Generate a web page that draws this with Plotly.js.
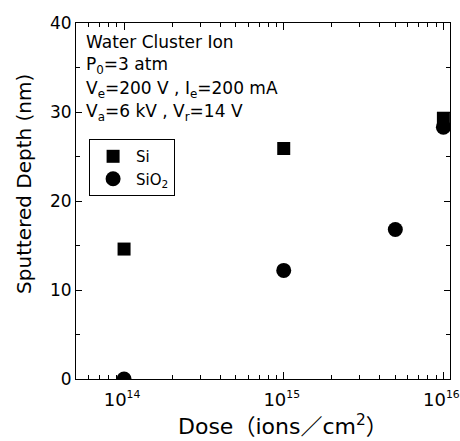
<!DOCTYPE html>
<html>
<head>
<meta charset="utf-8">
<script src="https://cdn.plot.ly/plotly-3.0.1.min.js"></script>
<style>
  html, body { margin: 0; padding: 0; background: #fff; }
  #chart { width: 460px; height: 441px; }
</style>
</head>
<body>
<div id="chart"></div>
<script>
// Sputtered depth vs. ion dose for water cluster ion irradiation
const siDose = [1e14, 1e15, 1e16];
const siDepth = [14.6, 25.9, 29.3];
const sio2Dose = [1e14, 1e15, 5e15, 1e16];
const sio2Depth = [0, 12.2, 16.8, 28.3];

const xTickVals = [1e14, 1e15, 1e16];
const xTickText = ['10<sup><span style="font-size:86%">14</span></sup>',
                   '10<sup><span style="font-size:86%">15</span></sup>',
                   '10<sup><span style="font-size:86%">16</span></sup>'];
const xMinorVals = [6e13, 7e13, 8e13, 9e13,
  2e14, 3e14, 4e14, 5e14, 6e14, 7e14, 8e14, 9e14,
  2e15, 3e15, 4e15, 5e15, 6e15, 7e15, 8e15, 9e15];

const conditionLines = [
  'Water Cluster Ion',
  'P<sub>0</sub>=3 atm',
  'V<sub>e</sub>=200 V , I<sub>e</sub>=200 mA',
  'V<sub>a</sub>=6 kV , V<sub>r</sub>=14 V'
];

const FONT = 'DejaVu Sans, "Noto Sans CJK JP", sans-serif';

const traces = [
  {
    x: siDose, y: siDepth, name: 'Si', type: 'scatter', mode: 'markers',
    marker: { symbol: 'square', size: 13, color: '#000' }
  },
  {
    x: sio2Dose, y: sio2Depth, name: 'SiO<sub>2</sub>', type: 'scatter', mode: 'markers',
    marker: { symbol: 'circle', size: 15, color: '#000' }
  }
];

// Run conditions, one line each, in the upper-left corner
const annotations = conditionLines.map((t, i) => ({
  xref: 'paper', yref: 'paper',
  x: 0.022, y: 0.946 - i * 0.066,
  xanchor: 'left', yanchor: 'middle',
  text: t, showarrow: false,
  font: { family: FONT, size: 17, color: '#000' }
}));

// Axis titles, placed as annotations
annotations.push({
  xref: 'paper', yref: 'paper',
  x: 0, xshift: -52, y: 0.548,
  xanchor: 'center', yanchor: 'middle',
  textangle: -90,
  text: 'Sputtered Depth (nm)', showarrow: false,
  font: { family: FONT, size: 20, color: '#000' }
});
annotations.push({
  xref: 'paper', yref: 'paper',
  x: 0.553, y: 0, yshift: -46,
  xanchor: 'center', yanchor: 'middle',
  text: 'Dose（ions／cm<sup>2</sup>）', showarrow: false,
  font: { family: FONT, size: 22, color: '#000' }
});

const layout = {
  width: 460, height: 441,
  margin: { l: 76, r: 10, t: 23, b: 62 },
  paper_bgcolor: '#fff', plot_bgcolor: '#fff',
  font: { family: FONT, color: '#000' },
  showlegend: true,
  legend: {
    x: 0.035, y: 0.674, xanchor: 'left', yanchor: 'top',
    bordercolor: '#000', borderwidth: 1, bgcolor: '#fff',
    font: { family: FONT, size: 15, color: '#000' },
    itemwidth: 36,
    tracegroupgap: 0
  },
  xaxis: {
    type: 'log',
    range: [Math.log10(5e13), Math.log10(1.1e16)],
    tickmode: 'array', tickvals: xTickVals, ticktext: xTickText,
    ticks: 'inside', ticklen: 7, tickwidth: 1, tickcolor: '#000',
    ticklabeloverflow: 'allow', ticklabelstandoff: 4, ticklabelshift: -2,
    minor: { tickmode: 'array', tickvals: xMinorVals, ticks: 'inside', ticklen: 4, tickcolor: '#000', showgrid: false },
    showline: true, linecolor: '#000', linewidth: 1, mirror: 'ticks',
    showgrid: false, zeroline: false,
    tickfont: { family: FONT, size: 18, color: '#000' }
  },
  yaxis: {
    range: [0, 40],
    tickmode: 'linear', tick0: 0, dtick: 10,
    ticks: 'inside', ticklen: 6, tickwidth: 1, tickcolor: '#000',
    minor: { dtick: 5, ticks: 'inside', ticklen: 4, tickcolor: '#000', showgrid: false },
    showline: true, linecolor: '#000', linewidth: 1, mirror: 'ticks',
    showgrid: false, zeroline: false,
    tickfont: { family: FONT, size: 17, color: '#000' }
  },
  annotations: annotations
};

Plotly.newPlot('chart', traces, layout, { displayModeBar: false, staticPlot: true });
</script>
</body>
</html>
